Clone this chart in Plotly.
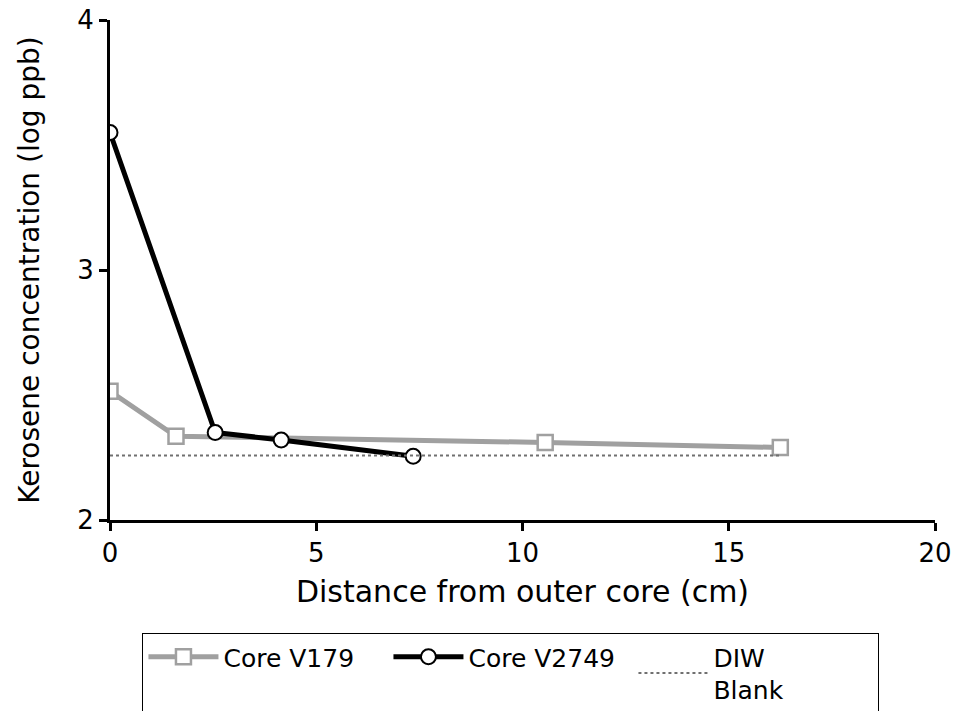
import plotly.graph_objects as go

v179_x = [0, 1.6, 10.55, 16.25]
v179_y = [2.515, 2.335, 2.31, 2.29]
v2749_x = [0, 2.55, 4.15, 7.35]
v2749_y = [3.55, 2.35, 2.32, 2.255]
blank_x = [0, 16.25]
blank_y = [2.258, 2.258]

FONT = "DejaVu Sans"

fig = go.Figure()
fig.add_trace(go.Scatter(
    x=v179_x, y=v179_y, mode="lines+markers", name="Core V179",
    line=dict(color="#a0a0a0", width=5),
    marker=dict(symbol="square", size=15, color="white", line=dict(color="#a0a0a0", width=2.5)),
))
fig.add_trace(go.Scatter(
    x=v2749_x, y=v2749_y, mode="lines+markers", name="Core V2749",
    line=dict(color="black", width=5),
    marker=dict(symbol="circle", size=15, color="white", line=dict(color="black", width=2)),
))
fig.add_trace(go.Scatter(
    x=blank_x, y=blank_y, mode="lines", name="DIW<br>Blank",
    line=dict(color="#707070", width=2, dash="dot"),
))

fig.update_layout(
    width=955, height=711,
    margin=dict(l=110, r=20, t=20, b=191, autoexpand=False),
    paper_bgcolor="white", plot_bgcolor="white",
    font=dict(family=FONT, color="black", size=26),
    showlegend=True,
    legend=dict(
        orientation="h", x=0.486, xanchor="center", y=-0.226, yanchor="top",
        bordercolor="black", borderwidth=1, font=dict(size=25),
        traceorder="normal", itemwidth=70,
        entrywidth=160, entrywidthmode="pixels",
    ),
    xaxis=dict(
        range=[0, 20], tickvals=[0, 5, 10, 15, 20], showgrid=False, zeroline=False,
        showline=True, linecolor="black", linewidth=3, ticks="outside",
        tickwidth=3, ticklen=8, tickcolor="black", automargin=False,
        title=dict(text="Distance from outer core (cm)", font=dict(size=30), standoff=14),
    ),
    yaxis=dict(
        range=[2, 4], tickvals=[2, 3, 4], showgrid=False, zeroline=False,
        showline=True, linecolor="black", linewidth=3, ticks="outside",
        tickwidth=3, ticklen=8, tickcolor="black", automargin=False,
        title=dict(text="Kerosene concentration (log ppb)", font=dict(size=28), standoff=30),
    ),
)
fig.write_html("out.html")
